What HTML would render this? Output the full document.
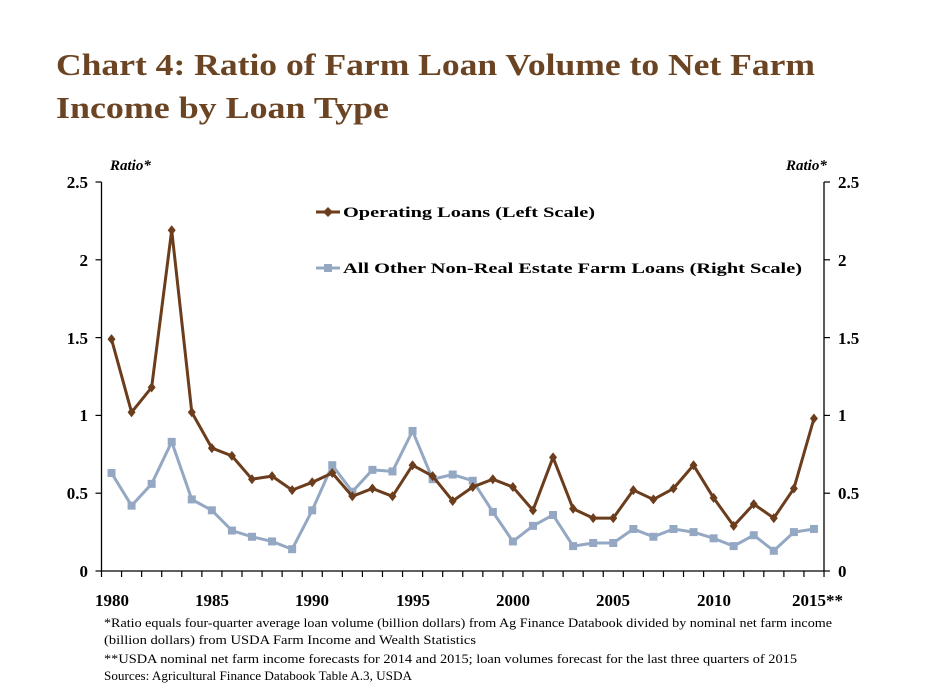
<!DOCTYPE html>
<html><head><meta charset="utf-8"><style>
body{margin:0;background:#fff;}
svg text{font-family:"Liberation Serif",serif;}
</style></head><body>
<svg width="925" height="693" viewBox="0 0 925 693" xmlns="http://www.w3.org/2000/svg">
<text x="56" y="75" font-size="31" font-weight="bold" fill="#6b4423" textLength="759" lengthAdjust="spacingAndGlyphs">Chart 4: Ratio of Farm Loan Volume to Net Farm</text>
<text x="56" y="118" font-size="31" font-weight="bold" fill="#6b4423" textLength="333" lengthAdjust="spacingAndGlyphs">Income by Loan Type</text>
<text x="110" y="170" font-size="15" font-style="italic" font-weight="bold">Ratio*</text>
<text x="786" y="170" font-size="15" font-style="italic" font-weight="bold">Ratio*</text>
<g font-size="17" font-weight="bold">
<text x="88" y="188" text-anchor="end">2.5</text><text x="88" y="266" text-anchor="end">2</text><text x="88" y="344" text-anchor="end">1.5</text><text x="88" y="421" text-anchor="end">1</text><text x="88" y="499" text-anchor="end">0.5</text><text x="88" y="577" text-anchor="end">0</text>
<text x="838" y="188">2.5</text><text x="838" y="266">2</text><text x="838" y="344">1.5</text><text x="838" y="421">1</text><text x="838" y="499">0.5</text><text x="838" y="577">0</text>
<text x="112" y="606" text-anchor="middle">1980</text><text x="212" y="606" text-anchor="middle">1985</text><text x="312" y="606" text-anchor="middle">1990</text><text x="413" y="606" text-anchor="middle">1995</text><text x="513" y="606" text-anchor="middle">2000</text><text x="613" y="606" text-anchor="middle">2005</text><text x="714" y="606" text-anchor="middle">2010</text><text x="792" y="606">2015**</text>
</g>
<g stroke="#000" stroke-width="1.3" fill="none">
<line x1="101.5" y1="182" x2="101.5" y2="571"/><line x1="824" y1="182" x2="824" y2="571"/><line x1="101.5" y1="571" x2="824" y2="571"/>
</g>
<g id="ticks" stroke="#000" stroke-width="1.2"></g>
<g font-size="15" font-weight="bold">
<line x1="316" y1="212" x2="340" y2="212" stroke="#6b3d1c" stroke-width="3"/><path d="M328 207 L333 212 L328 217 L323 212Z" fill="#6b3d1c"/>
<text x="343" y="217" textLength="252" lengthAdjust="spacingAndGlyphs">Operating Loans (Left Scale)</text>
<line x1="316" y1="268" x2="340" y2="268" stroke="#94a8c4" stroke-width="3"/><rect x="324" y="264" width="8" height="8" fill="#94a8c4"/>
<text x="343" y="273" textLength="459" lengthAdjust="spacingAndGlyphs">All Other Non-Real Estate Farm Loans (Right Scale)</text>
</g>
<g id="series"></g>
<g font-size="12.5" fill="#000">
<text x="104" y="627" textLength="728" lengthAdjust="spacingAndGlyphs">*Ratio equals four-quarter average loan volume (billion dollars) from Ag Finance Databook divided by nominal net farm income</text>
<text x="104" y="644" textLength="372" lengthAdjust="spacingAndGlyphs">(billion dollars) from USDA Farm Income and Wealth Statistics</text>
<text x="104" y="663" textLength="693" lengthAdjust="spacingAndGlyphs">**USDA nominal net farm income forecasts for 2014 and 2015; loan volumes forecast for the last three quarters of  2015</text>
<text x="104" y="680" textLength="308" lengthAdjust="spacingAndGlyphs">Sources: Agricultural Finance Databook Table A.3, USDA</text>
</g>
</svg>
<script>
var ns="http://www.w3.org/2000/svg";
var t=document.getElementById("ticks");
for(var i=0;i<=36;i++){var x=101.5+i*20.07;var l=document.createElementNS(ns,"line");l.setAttribute("x1",x);l.setAttribute("x2",x);l.setAttribute("y1",571);l.setAttribute("y2",577);t.appendChild(l);}
var yt=[0,0.5,1,1.5,2,2.5];
yt.forEach(function(v){var y=571-v*155.6;[[101.5,95.5],[824,830]].forEach(function(p){var l=document.createElementNS(ns,"line");l.setAttribute("x1",p[0]);l.setAttribute("x2",p[1]);l.setAttribute("y1",y);l.setAttribute("y2",y);t.appendChild(l);});});
var op=[1.49,1.02,1.18,2.19,1.02,0.79,0.74,0.59,0.61,0.52,0.57,0.63,0.48,0.53,0.48,0.68,0.61,0.45,0.54,0.59,0.54,0.39,0.73,0.40,0.34,0.34,0.52,0.46,0.53,0.68,0.47,0.29,0.43,0.34,0.53,0.98];
var bl=[0.63,0.42,0.56,0.83,0.46,0.39,0.26,0.22,0.19,0.14,0.39,0.68,0.51,0.65,0.64,0.90,0.59,0.62,0.58,0.38,0.19,0.29,0.36,0.16,0.18,0.18,0.27,0.22,0.27,0.25,0.21,0.16,0.23,0.13,0.25,0.27];
var s=document.getElementById("series");
function draw(d,c,sq){var pts=d.map(function(v,i){return [111.5+i*20.07,571-v*155.6];});
var pl=document.createElementNS(ns,"polyline");pl.setAttribute("points",pts.map(function(p){return p.join(",")}).join(" "));pl.setAttribute("fill","none");pl.setAttribute("stroke",c);pl.setAttribute("stroke-width","3");s.appendChild(pl);
pts.forEach(function(p){var m;if(sq){m=document.createElementNS(ns,"rect");m.setAttribute("x",p[0]-4);m.setAttribute("y",p[1]-4);m.setAttribute("width",8);m.setAttribute("height",8);}else{m=document.createElementNS(ns,"path");m.setAttribute("d","M"+p[0]+" "+(p[1]-5)+" L"+(p[0]+4)+" "+p[1]+" L"+p[0]+" "+(p[1]+5)+" L"+(p[0]-4)+" "+p[1]+"Z");}m.setAttribute("fill",c);s.appendChild(m);});}
draw(bl,"#94a8c4",true);draw(op,"#6b3d1c",false);
</script>
</body></html>
